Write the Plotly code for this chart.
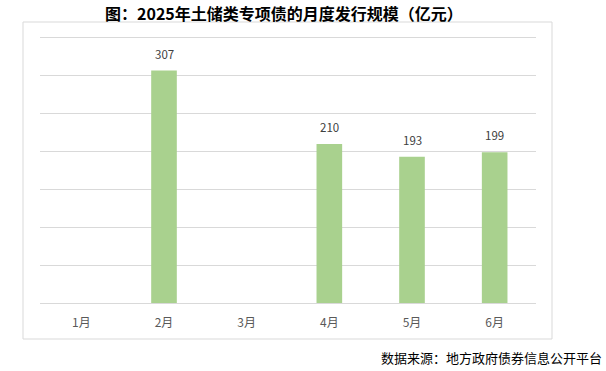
import plotly.graph_objects as go

months = ["1月", "2月", "3月", "4月", "5月", "6月"]
values = [None, 307, None, 210, 193, 199]
title_text = "图：2025年土储类专项债的月度发行规模（亿元）"
source_text = "数据来源：地方政府债券信息公开平台"

W, H = 606, 371
ml, mr, mt, mb = 40, 70, 38, 68
pw, ph = W - ml - mr, H - mt - mb

fig = go.Figure()
fig.add_trace(go.Bar(
    x=months, y=values,
    marker=dict(color="#A9D18E", line=dict(width=0)),
    hoverinfo="skip",
))

for m, v in zip(months, values):
    if v is not None:
        fig.add_annotation(x=m, y=v, text=str(v), showarrow=False,
                           yanchor="bottom", yshift=7,
                           font=dict(size=11.5, color="#404040", family="Noto Sans CJK SC"))

def px_x(p):
    return (p - ml) / pw

def px_y(p):
    return (H - mb - p) / ph

fig.add_shape(type="rect", xref="paper", yref="paper",
              x0=px_x(23), x1=px_x(552), y0=px_y(339), y1=px_y(22),
              line=dict(color="#D9D9D9", width=1), fillcolor="rgba(0,0,0,0)", layer="below")

fig.add_annotation(xref="paper", yref="paper", x=px_x(284), y=px_y(13),
                   text="<b>" + title_text + "</b>", showarrow=False,
                   xanchor="center", yanchor="middle",
                   font=dict(size=16, color="#000000", family="Noto Sans CJK SC"))

fig.add_annotation(xref="paper", yref="paper", x=px_x(604), y=px_y(357),
                   text=source_text, showarrow=False,
                   xanchor="right", yanchor="middle",
                   font=dict(size=13, color="#000000", family="Noto Sans CJK SC"))

fig.update_layout(
    width=W, height=H,
    margin=dict(l=ml, r=mr, t=mt, b=mb),
    paper_bgcolor="white", plot_bgcolor="white",
    bargap=0.69,
    showlegend=False,
    xaxis=dict(showline=True, mirror=True, linecolor="#D9D9D9", linewidth=1,
               showgrid=False, zeroline=False, ticks="", ticklabelstandoff=9,
               tickfont=dict(size=12, color="#595959", family="Noto Sans CJK SC"),
               fixedrange=True),
    yaxis=dict(range=[0, 350], dtick=50, showticklabels=False, showgrid=True,
               gridcolor="#D9D9D9", gridwidth=1, zeroline=True, zerolinecolor="#D9D9D9",
               zerolinewidth=1, showline=False, ticks="", fixedrange=True),
)

fig.write_html("out.html", config={"displayModeBar": False},
               post_script="document.body.style.margin='0';document.body.style.overflow='hidden';")
